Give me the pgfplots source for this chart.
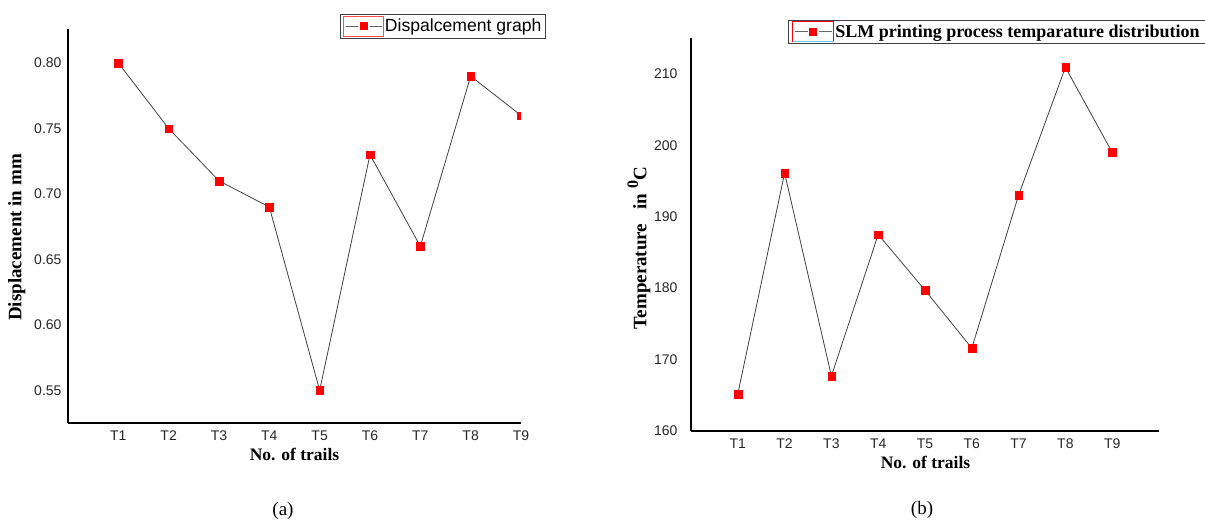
\documentclass[border=0pt]{standalone}
\usepackage{fontspec}
\setmainfont{Liberation Serif}
\newfontfamily\arial{Liberation Sans}
\usepackage{pgfplots}
\pgfplotsset{compat=1.18}
\begin{document}
\begin{tikzpicture}
\useasboundingbox (0pt,0pt) rectangle (1205pt,523pt);
\pgfplotsset{
  common/.style={
    scale only axis,
    axis x line*=bottom, axis y line*=left,
    axis line style={-, black, line width=1.1pt},
    major tick length=0pt,
    xtick={1,...,9},
    xticklabels={T1,T2,T3,T4,T5,T6,T7,T8,T9},
    /pgf/number format/assume math mode=true,
    ticklabel style={font=\arial\fontsize{14}{16}\selectfont, text=black!85},
    xticklabel style={yshift=-4pt},
    xlabel style={font=\bfseries\fontsize{17.5}{20}\selectfont},
    ylabel style={font=\bfseries\fontsize{19}{21}\selectfont},
    clip marker paths=true,
    legend cell align=left,
  },
  mystyle/.style={color=black!75, line width=0.8pt, mark=square*, mark size=3.8pt,
     mark options={fill=red, draw=red, line width=0.1pt}},
}
% ---------------- (a) ----------------
\begin{axis}[common,
  at={(68pt,100pt)}, anchor=south west,
  width=453pt, height=394pt,
  xmin=0, xmax=9, ymin=0.525, ymax=0.826,
  ytick={0.55,0.60,0.65,0.70,0.75,0.80},
  yticklabel style={xshift=-3pt, /pgf/number format/.cd, fixed, fixed zerofill, precision=2},
  xlabel={No. of trails},
  ylabel={Displacement in mm},
  xlabel style={at={(axis description cs:0.5,-0.081)}, anchor=center},
  ylabel style={at={(axis description cs:-0.113,0.471)}, anchor=center},
  legend style={at={(axis description cs:1.055,1.038)}, anchor=north east,
    draw=black!75, line width=0.8pt, inner xsep=3pt, inner ysep=1.5pt,
    font=\arial\fontsize{17.6}{19}\selectfont,
    nodes={inner sep=1pt}},
  legend image code/.code={
    \draw[red!70, line width=0.7pt] (0pt,-10pt) rectangle (40pt,10pt);
    \draw[black!60, line width=0.8pt] (2pt,0pt) -- (14pt,0pt) (26pt,0pt) -- (38pt,0pt);
    \fill[red] (16.5pt,-3.5pt) rectangle (23.5pt,3.5pt);
  },
]
\addplot[mystyle] coordinates {
  (1,0.80) (2,0.75) (3,0.71) (4,0.69) (5,0.55) (6,0.73) (7,0.66) (8,0.79) (9,0.76)
};
\addlegendentry{Dispalcement graph}
\end{axis}
% ---------------- (b) ----------------
\begin{axis}[common,
  at={(691pt,92pt)}, anchor=south west,
  width=468pt, height=393pt,
  xmin=0, xmax=10, ymin=160, ymax=215,
  ytick={160,170,...,210},
  yticklabel style={xshift=-10pt},
  xlabel={No. of trails},
  ylabel={Temperature~~~in \raisebox{2pt}{\textsuperscript{\fontsize{16}{16}\selectfont 0}}C},
  xlabel style={at={(axis description cs:0.501,-0.081)}, anchor=center},
  ylabel style={at={(axis description cs:-0.111,0.466)}, anchor=center},
  legend style={at={(axis description cs:0.207,1.046)}, anchor=north west,
    draw=black!75, line width=0.8pt, inner xsep=4pt, inner ysep=1pt,
    font=\bfseries\fontsize{18}{20}\selectfont,
    nodes={inner sep=1pt}},
  legend image code/.code={
    \draw[red, line width=0.7pt] (0pt,-10pt) -- (0pt,10pt) -- (41pt,10pt) -- (41pt,-10pt);
    \draw[cyan!60, line width=1pt] (0pt,-10pt) -- (41pt,-10pt);
    \draw[black!60, line width=0.8pt] (2pt,0pt) -- (15pt,0pt) (26pt,0pt) -- (39pt,0pt);
    \fill[red] (17pt,-3.5pt) rectangle (24pt,3.5pt);
  },
]
\addplot[mystyle] coordinates {
  (1,165.2) (2,196.1) (3,167.7) (4,187.5) (5,179.7) (6,171.6) (7,193.0) (8,210.9) (9,199.0)
};
\addlegendentry{\makebox[375pt][l]{SLM printing process temparature distribution}}
\end{axis}
\node[font=\fontsize{19}{21}\selectfont] at (283pt,12pt) {(a)};
\node[font=\fontsize{19}{21}\selectfont] at (922pt,13pt) {(b)};
\end{tikzpicture}
\end{document}
